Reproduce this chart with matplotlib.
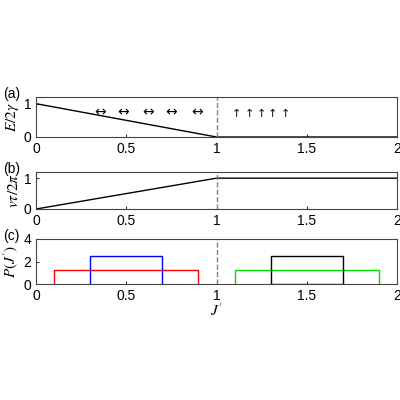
import matplotlib.pyplot as plt

plt.rcParams['font.family'] = ['Liberation Sans', 'DejaVu Sans']
plt.rcParams['mathtext.fontset'] = 'stix'

# (a) energy
Ja = [0, 1, 2]
Ea = [1, 0, 0]
# (b) phase
vb = [0, 1, 1]
# (c) distributions
red_x = [0.1, 0.1, 0.9, 0.9]
red_y = [0, 1.25, 1.25, 0]
blue_x = [0.3, 0.3, 0.7, 0.7]
blue_y = [0, 2.5, 2.5, 0]
blue0_x = [1.3, 1.7]
blue0_y = [0, 0]
green_x = [1.1, 1.1, 1.9, 1.9]
green_y = [0, 1.25, 1.25, 0]
black_x = [1.3, 1.3, 1.7, 1.7]
black_y = [0, 2.5, 2.5, 0]
lr_pos = [0.355, 0.48, 0.62, 0.75, 0.89]
up_pos = [1.11, 1.18, 1.25, 1.31, 1.38]
xticks = [0, 0.5, 1, 1.5, 2]
xticklabels = ['0', '0.5', '1', '1.5', '2']

fig = plt.figure(figsize=(4, 4), dpi=100)
axa = fig.add_axes([0.09, 0.6575, 0.9025, 0.1])
axb = fig.add_axes([0.09, 0.4775, 0.9025, 0.0925])
axc = fig.add_axes([0.09, 0.29, 0.9025, 0.1125])

axa.plot(Ja, Ea, 'k', lw=1)
axa.set_ylim(0, 1.2)
axa.set_yticks([0, 1])
axa.set_ylabel(r'$E/2\gamma$', fontsize=11, labelpad=2)
for p in lr_pos:
    axa.text(p, 0.75, '↔', ha='center', va='center', fontsize=10, family=['DejaVu Sans'])
for p in up_pos:
    axa.text(p, 0.7, '↑', ha='center', va='center', fontsize=8, family=['DejaVu Sans'])

axb.plot(Ja, vb, 'k', lw=1)
axb.set_ylim(0, 1.2)
axb.set_yticks([0, 1])
axb.set_ylabel(r'$v\tau/2\pi$', fontsize=11, labelpad=2)

axc.plot(red_x, red_y, 'r', lw=1)
axc.plot(blue_x, blue_y, 'b', lw=1)
axc.plot(blue0_x, blue0_y, 'b', lw=1)
axc.plot(green_x, green_y, color='#00dd00', lw=1)
axc.plot(black_x, black_y, 'k', lw=1)
axc.set_ylim(0, 4)
axc.set_yticks([0, 2, 4])
axc.set_ylabel(r"$P(J')$", fontsize=11, labelpad=2)
axc.set_xlabel(r"$J'$", fontsize=11, labelpad=0)

for ax, lab in zip([axa, axb, axc], ['(a)', '(b)', '(c)']):
    ax.axvline(1, color='gray', ls='--', lw=1)
    ax.set_xlim(0, 2)
    ax.set_xticks(xticks)
    ax.set_xticklabels(xticklabels)
    ax.tick_params(labelsize=10, direction='in', length=2, width=0.6)
    for s in ax.spines.values():
        s.set_linewidth(0.8)
        s.set_color('#444444')
    ax.text(-0.09, 1.07, lab, transform=ax.transAxes, fontsize=10, ha='left', va='center')

fig.savefig('out.png', dpi=100)
